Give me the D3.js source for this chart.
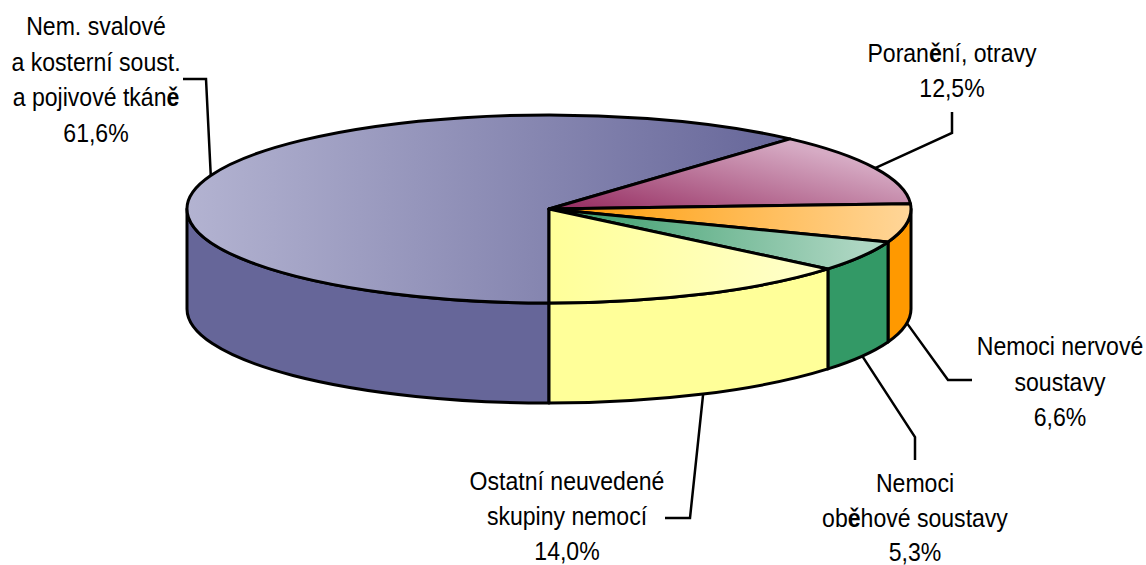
<!DOCTYPE html>
<html>
<head>
<meta charset="utf-8">
<script src="https://cdn.jsdelivr.net/npm/d3@7"></script>
<style>
  html, body { margin: 0; padding: 0; background: #fff; overflow: hidden; }
  text { font-family: "Liberation Sans", sans-serif; font-size: 26.5px; fill: #000; text-anchor: middle; }
</style>
</head>
<body>
<div id="chart"></div>
<script>
// data
var categories = [
  ['Nem. svalové', 'a kosterní soust.', 'a pojivové tkáně'],
  ['Poranění, otravy'],
  ['Nemoci nervové', 'soustavy'],
  ['Nemoci', 'oběhové soustavy'],
  ['Ostatní neuvedené', 'skupiny nemocí']
]
var values = [61.6, 12.5, 6.6, 5.3, 14.0]
var topColors = ['url(#g0)', 'url(#g1)', 'url(#g2)', 'url(#g3)', 'url(#g4)']
var sideColors = ['#666699', '#993366', '#ff9900', '#339966', '#ffff99']

var width = 1146
var height = 565
var cx = 549
var cy = 209
var rx = 362
var ry = 94
var depth = 100
var narrow = 0.87 // no narrow face installed, so squeeze the regular one

// unit circle -> picture, the tilt is just a flatter y range
var xs = d3.scaleLinear().domain([-1, 1]).range([cx - rx, cx + rx])
var ys = d3.scaleLinear().domain([-1, 1]).range([cy - ry, cy + ry])

function px(a) { return xs(Math.sin(a)) }
function py(a) { return ys(-Math.cos(a)) }

var svg = d3.select('#chart').append('svg')
  .attr('width', width)
  .attr('height', height)

var defs = svg.append('defs')
function grad(id, x1, y1, x2, y2, c1, c2) {
  var g = defs.append('linearGradient').attr('id', id)
    .attr('gradientUnits', 'userSpaceOnUse')
    .attr('x1', x1).attr('y1', y1).attr('x2', x2).attr('y2', y2)
  g.append('stop').attr('offset', 0).attr('stop-color', c1)
  g.append('stop').attr('offset', 1).attr('stop-color', c2)
}
grad('g0', 187, 0, 790, 0, '#b3b3d1', '#666699')
grad('g1', 600, 212, 627, 104, '#993366', '#d6abc4')
grad('g2', 549, 0, 911, 0, '#ff9900', '#ffd699')
grad('g3', 549, 0, 860, 0, '#339966', '#add6c2')
grad('g4', 549, 0, 828, 0, '#ffff99', '#ffffcc')

var pie = d3.pie().sort(null).startAngle(Math.PI).endAngle(3 * Math.PI)
var slices = pie(values)

function arcTo(a, large, sweep, dy) {
  return 'A' + rx + ',' + ry + ' 0 ' + large + ' ' + sweep + ' ' + px(a) + ',' + (py(a) + dy)
}

// side wall, only the front half of the cylinder shows
function wallPath(d) {
  var ranges = [[d.startAngle, d.endAngle], [d.startAngle - 2 * Math.PI, d.endAngle - 2 * Math.PI]]
  var out = ''
  ranges.forEach(function (r) {
    var a = Math.max(r[0], Math.PI / 2)
    var b = Math.min(r[1], 3 * Math.PI / 2)
    if (b <= a) return
    out += 'M' + px(a) + ',' + py(a) + arcTo(b, 0, 1, 0)
    out += 'L' + px(b) + ',' + (py(b) + depth) + arcTo(a, 0, 0, depth) + 'Z'
  })
  return out
}

function topPath(d) {
  var large = d.endAngle - d.startAngle > Math.PI ? 1 : 0
  return 'M' + cx + ',' + cy +
    'L' + px(d.startAngle) + ',' + py(d.startAngle) +
    arcTo(d.endAngle, large, 1, 0) + 'Z'
}

svg.append('g').selectAll('path')
  .data(slices)
  .join('path')
  .attr('d', wallPath)
  .attr('fill', function (d, i) { return sideColors[i] })
  .attr('stroke', '#000')
  .attr('stroke-width', 3)
  .attr('stroke-linejoin', 'round')

svg.append('g').selectAll('path')
  .data(slices)
  .join('path')
  .attr('d', topPath)
  .attr('fill', function (d, i) { return topColors[i] })
  .attr('stroke', '#000')
  .attr('stroke-width', 3)
  .attr('stroke-linejoin', 'round')

// labels: centre x, first baseline, elbow and end of the leader
var labelPos = [
  { x: 96, y: 35, step: 35.7, elbow: [206, 79], end: [183, 79], front: false },
  { x: 952, y: 62, step: 35, elbow: [952, 133], end: [952, 112], front: false },
  { x: 1060, y: 355, step: 35.5, elbow: [948, 380], end: [972, 380], front: true },
  { x: 915, y: 492, step: 34.5, elbow: [915, 437], end: [915, 460], front: true },
  { x: 567, y: 490, step: 35, elbow: [690, 518], end: [665, 518], front: true }
]

var leader = d3.line()
svg.append('g').selectAll('path')
  .data(slices)
  .join('path')
  .attr('fill', 'none')
  .attr('stroke', '#000')
  .attr('stroke-width', 2.5)
  .attr('d', function (d, i) {
    var p = labelPos[i]
    var mid = (d.startAngle + d.endAngle) / 2
    return leader([[px(mid), py(mid) + (p.front ? depth : 0)], p.elbow, p.end])
  })

var labels = svg.append('g')
slices.forEach(function (d, i) {
  var p = labelPos[i]
  var lines = categories[i].concat([values[i].toFixed(1).replace('.', ',') + '%'])
  lines.forEach(function (line, k) {
    var t = labels.append('text')
      .attr('transform', 'translate(' + p.x + ',' + (p.y + k * p.step) + ') scale(' + narrow + ',1)')
    // the ě glyph falls back to a heavier face in the original
    line.split(/(ě)/).forEach(function (part) {
      if (!part) return
      t.append('tspan').attr('font-weight', part === 'ě' ? 'bold' : null).text(part)
    })
  })
})
</script>
</body>
</html>
